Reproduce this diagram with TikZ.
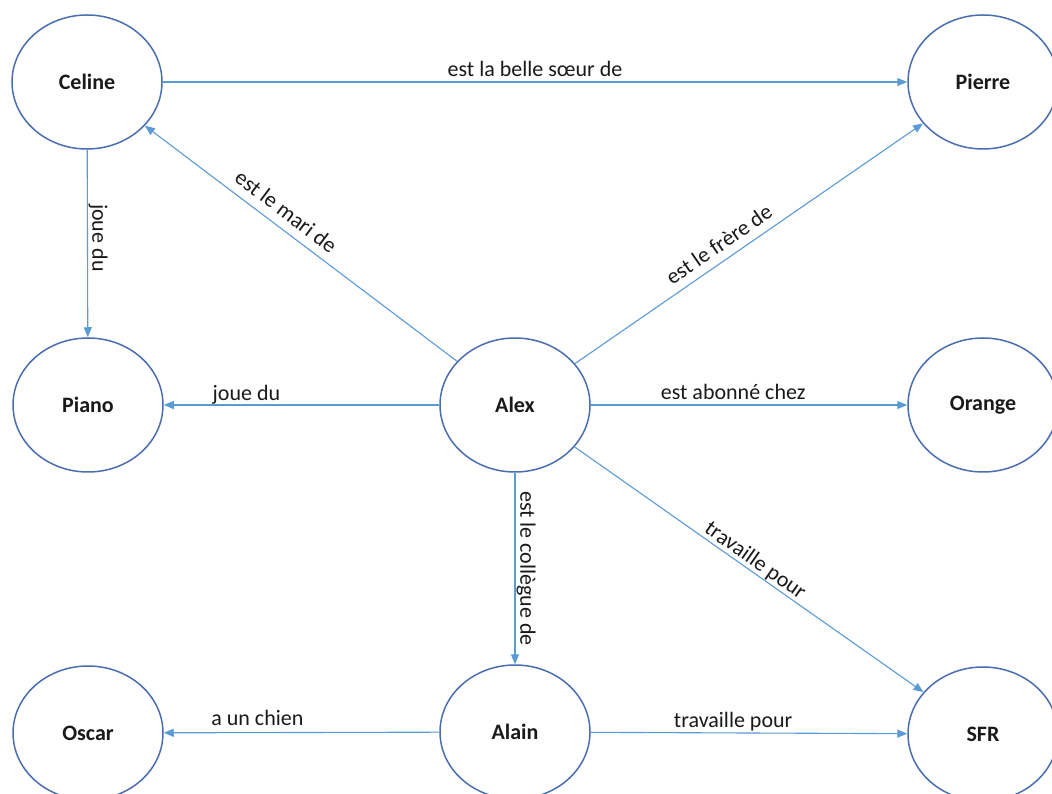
\documentclass[tikz,border=0pt]{standalone}
\usepackage{fontspec}
\setmainfont{Carlito}
\usetikzlibrary{shapes.geometric,arrows.meta}
\definecolor{ringblue}{HTML}{4A6EB0}
\definecolor{edgeblue}{HTML}{5B9BD5}
\definecolor{inkgrey}{HTML}{1A1A1A}
\begin{document}
\begin{tikzpicture}[x=1pt,y=1pt,
  ent/.style={ellipse,draw=ringblue,line width=1.5pt,minimum width=150pt,minimum height=134pt,
    inner sep=0pt,font=\fontsize{22}{26}\selectfont\bfseries,text=inkgrey},
  rel/.style={draw=edgeblue,line width=1.1pt,-{Triangle[length=10pt,width=8pt]}},
  lbl/.style={font=\fontsize{22}{26}\selectfont,text=inkgrey,anchor=south,inner sep=#1},
  lbl/.default=5pt]
\fill[white] (0,0) rectangle (1052,793);
\clip (0,0) rectangle (1052,793);
\useasboundingbox (0,0) rectangle (1052,793);

\node[ent] (celine) at (87,711) {Celine};
\node[ent] (pierre) at (983,711) {Pierre};
\node[ent] (piano)  at (88,388) {Piano};
\node[ent] (alex)   at (515,388) {Alex};
\node[ent] (orange) at (983,388) {Orange};
\node[ent] (oscar)  at (88,60) {Oscar};
\node[ent] (alain)  at (515,61) {Alain};
\node[ent] (sfr)    at (983,59) {SFR};

\draw[rel] (celine) -- node[lbl=5pt] {est la belle sœur de} (pierre);
\draw[rel] (celine) -- node[lbl=0.5pt,rotate=-90,pos=0.47] {joue du} (piano);
\draw[rel] (alex) -- node[lbl=0.5pt,pos=0.7] {joue du} (piano);
\draw[rel] (alex) -- node[lbl=5pt,pos=0.45] {est abonné chez} (orange);
\draw[rel] (alex) -- node[lbl=1pt,rotate=-90,pos=0.5] {est le collègue de} (alain);
\draw[rel] (alex) -- node[lbl=8.5pt,rotate=-37,pos=0.58] {est le mari de} (celine);
\draw[rel] (alex) -- node[lbl=8pt,rotate=34.6,pos=0.44] {est le frère de} (pierre);
\draw[rel] (alex) -- node[lbl=0.5pt,rotate=-35.2,pos=0.5] {travaille pour} (sfr);
\draw[rel] (alain) -- node[lbl=6pt,pos=0.66] {a un chien} (oscar);
\draw[rel] (alain) -- node[lbl=1pt,pos=0.45] {travaille pour} (sfr);
\end{tikzpicture}
\end{document}
